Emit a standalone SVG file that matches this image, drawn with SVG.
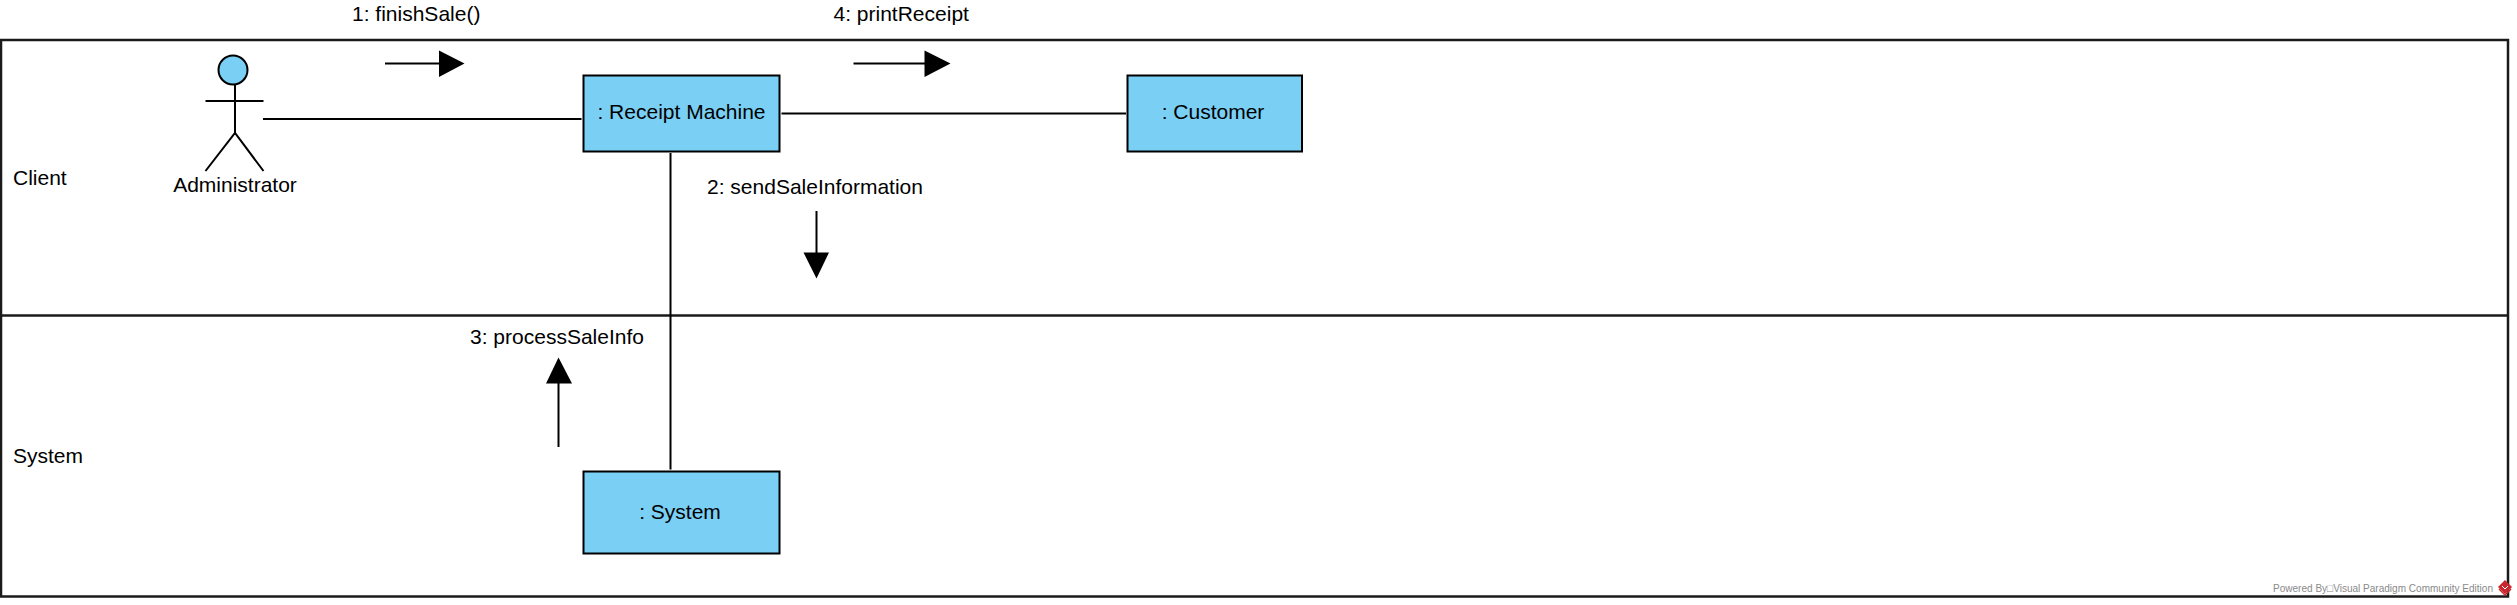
<svg xmlns="http://www.w3.org/2000/svg" width="2517" height="605" viewBox="0 0 2517 605">
<style>
text{font-family:"Liberation Sans",Arial,sans-serif;font-size:21px;fill:#000}
.box{fill:#7ACFF5;stroke:#000;stroke-width:2}
.ln{fill:none;stroke:#000;stroke-width:2}
.fr{fill:none;stroke:#1a1a1a;stroke-width:2.5}
.m{text-anchor:middle}
.h{fill:#000;stroke:none}
</style>
<rect width="2517" height="605" fill="#fff"/>
<g id="frame">
<rect class="fr" x="1" y="40" width="2507" height="556.5"/>
<line class="fr" x1="1" y1="315.5" x2="2508" y2="315.5"/>
</g>
<g id="lane-client"><text x="13" y="185">Client</text></g>
<g id="lane-system"><text x="13" y="463">System</text></g>
<g id="connectors">
<line class="ln" x1="263" y1="119" x2="581.5" y2="119"/>
<line class="ln" x1="781.5" y1="113.5" x2="1126" y2="113.5"/>
<line class="ln" x1="670.5" y1="153" x2="670.5" y2="469.5"/>
<g id="msg1">
<text x="352" y="21">1: finishSale()</text>
<line class="ln" x1="385" y1="63.5" x2="440" y2="63.5"/>
<polygon class="h" points="439,50.5 464.5,63.5 439,77"/>
</g>
<g id="msg2">
<text x="707" y="194">2: sendSaleInformation</text>
<line class="ln" x1="816.5" y1="211" x2="816.5" y2="254"/>
<polygon class="h" points="803.5,252.5 829,252.5 816.5,278.5"/>
</g>
<g id="msg3">
<text x="470" y="344">3: processSaleInfo</text>
<line class="ln" x1="558.5" y1="447" x2="558.5" y2="382"/>
<polygon class="h" points="546,383.5 572,383.5 558.5,357.5"/>
</g>
<g id="msg4">
<text x="833.5" y="21">4: printReceipt</text>
<line class="ln" x1="853.5" y1="63.5" x2="926" y2="63.5"/>
<polygon class="h" points="924.5,50.5 950.5,63.5 924.5,77"/>
</g>
</g>
<g id="administrator">
<ellipse class="box" cx="233" cy="70" rx="14.5" ry="14.5"/>
<path class="ln" d="M235 84.5V133M205.5 101H263.5M205.5 171L235 133L263.5 171"/>
<text class="m" x="235" y="192">Administrator</text>
</g>
<g id="receipt-machine">
<rect class="box" x="583.5" y="75.5" width="196" height="76"/>
<text class="m" x="681.5" y="119">: Receipt Machine</text>
</g>
<g id="customer">
<rect class="box" x="1127.5" y="75.5" width="174.5" height="76"/>
<text class="m" x="1213" y="119">: Customer</text>
</g>
<g id="system">
<rect class="box" x="583.5" y="471.5" width="196" height="82"/>
<text class="m" x="680" y="519">: System</text>
</g>
<g id="footer">
<text x="2273" y="592" textLength="220" lengthAdjust="spacingAndGlyphs" style="font-size:11px;fill:#8a8a8a">Powered By□Visual Paradigm Community Edition</text>
<polygon points="2505,580 2512,587 2505,594 2498,587" fill="#c8282d"/>
<path d="M2499 589L2505 595L2511 589" fill="none" stroke="#c8282d" stroke-width="1.5"/>
<path d="M2502 586L2505 589L2508 586" fill="none" stroke="#fff" stroke-width="1"/>
</g>
</svg>
